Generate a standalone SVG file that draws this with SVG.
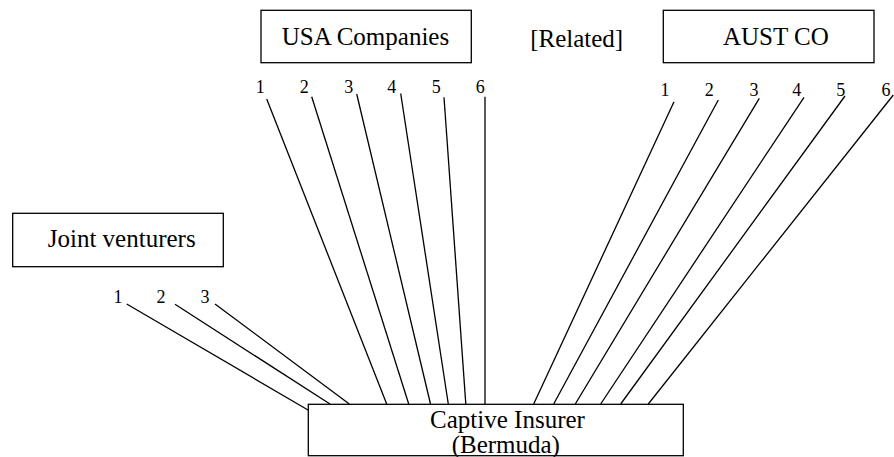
<svg xmlns="http://www.w3.org/2000/svg" width="894" height="457" viewBox="0 0 894 457">
  <style>
    .box { fill: #fff; stroke: #000; stroke-width: 1.3; }
    .lbl { font-family: "Liberation Serif", "DejaVu Serif", "Times New Roman", Times, serif; font-size: 25px; fill: #000; text-anchor: middle; }
    .num { font-family: "Liberation Serif", "DejaVu Serif", "Times New Roman", Times, serif; font-size: 18px; fill: #000; text-anchor: middle; }
    .link { stroke: #000; stroke-width: 1.3; fill: none; }
  </style>
  <rect width="894" height="457" fill="#fff"/>

  <!-- ownership links into the captive -->
  <g id="connectors">
    <!-- USA companies 1-6 -->
    <line class="link" x1="266.7" y1="99" x2="386.7" y2="404"/>
    <line class="link" x1="311.7" y1="96.7" x2="408.7" y2="404"/>
    <line class="link" x1="356.7" y1="94" x2="430.5" y2="404"/>
    <line class="link" x1="400.7" y1="93.5" x2="448.3" y2="404"/>
    <line class="link" x1="444" y1="97.3" x2="465.8" y2="404"/>
    <line class="link" x1="485" y1="96.7" x2="485" y2="404"/>
    <!-- AUST CO 1-6 -->
    <line class="link" x1="674" y1="101.7" x2="533.7" y2="404"/>
    <line class="link" x1="718.3" y1="100" x2="553.7" y2="404"/>
    <line class="link" x1="759.3" y1="98.3" x2="575.3" y2="404"/>
    <line class="link" x1="804" y1="97.3" x2="600.7" y2="404"/>
    <line class="link" x1="845" y1="96" x2="620.7" y2="404"/>
    <line class="link" x1="893.3" y1="95" x2="648.3" y2="404"/>
    <!-- Joint venturers 1-3 -->
    <line class="link" x1="126.7" y1="304" x2="309.3" y2="410.7"/>
    <line class="link" x1="175" y1="304.3" x2="330" y2="404"/>
    <line class="link" x1="215" y1="304" x2="349.3" y2="404"/>
  </g>

  <g id="usa-companies">
    <rect class="box" x="261" y="10.3" width="210.3" height="52.4"/>
    <text class="lbl" x="365.5" y="45">USA Companies</text>
    <text class="num" x="260.3" y="93">1</text>
    <text class="num" x="304.3" y="93">2</text>
    <text class="num" x="348.8" y="93">3</text>
    <text class="num" x="391.7" y="93">4</text>
    <text class="num" x="436.2" y="93">5</text>
    <text class="num" x="480.3" y="93">6</text>
  </g>

  <g id="related">
    <text class="lbl" x="576.7" y="46.7">[Related]</text>
  </g>

  <g id="aust-co">
    <rect class="box" x="663.3" y="10.3" width="210.7" height="52.4"/>
    <text class="lbl" x="775.8" y="45">AUST CO</text>
    <text class="num" x="665" y="96">1</text>
    <text class="num" x="709.3" y="96">2</text>
    <text class="num" x="754" y="96">3</text>
    <text class="num" x="796.7" y="96">4</text>
    <text class="num" x="840.7" y="96">5</text>
    <text class="num" x="886" y="96">6</text>
  </g>

  <g id="joint-venturers">
    <rect class="box" x="12.7" y="213.3" width="210.6" height="53.4"/>
    <text class="lbl" x="121.7" y="246.7">Joint venturers</text>
    <text class="num" x="118" y="302.7">1</text>
    <text class="num" x="161" y="302.7">2</text>
    <text class="num" x="205" y="302.7">3</text>
  </g>

  <g id="captive-insurer">
    <rect class="box" x="308.3" y="404.3" width="375" height="51.4"/>
    <text class="lbl" x="507.5" y="428.3">Captive Insurer</text>
    <text class="lbl" x="505.8" y="452.7">(Bermuda)</text>
  </g>
</svg>
